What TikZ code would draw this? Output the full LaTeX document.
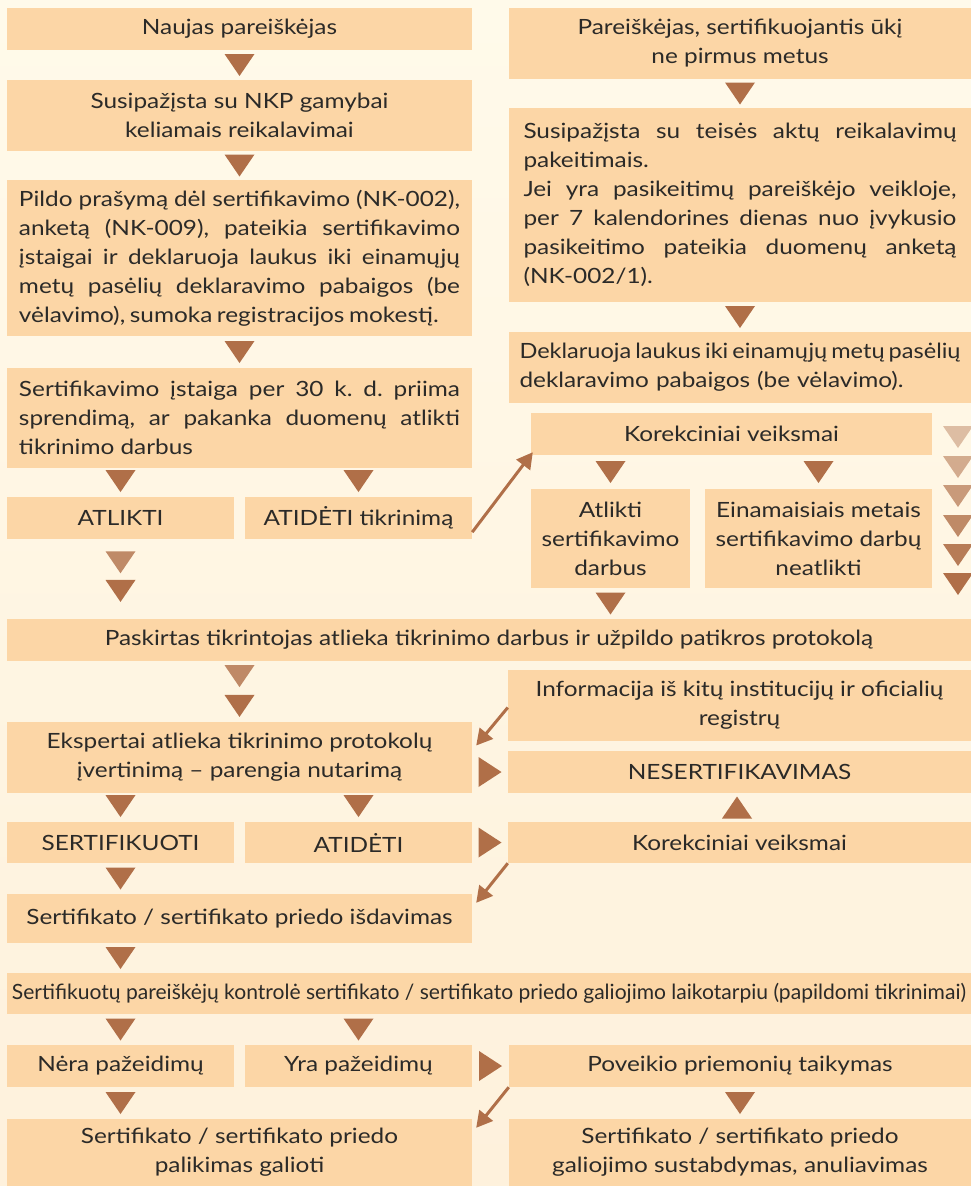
\documentclass[tikz,border=0pt]{standalone}
\usepackage{fontspec}
\usepackage{graphicx}
\setmainfont{Lato}[FakeStretch=1.16]
\usetikzlibrary{calc,arrows.meta}
\definecolor{bgtop}{HTML}{FFFAEA}
\definecolor{bgbot}{HTML}{FEF1DC}
\definecolor{boxc}{HTML}{FCD6A6}
\definecolor{triC}{HTML}{B06F48}
\definecolor{txt}{HTML}{2B2A28}
\newcommand\mkbox[7][bx]{\node[#1, minimum width={#5pt-#3pt}, minimum height={#6pt-#4pt}] (#2) at ({(#3+#5)/2},{(#4+#6)/2}) {#7};}
% down triangle between two points: style, pos, from, to
\newcommand\dtri[4]{\path (#3) -- (#4) coordinate[pos=#2] (m); \fill[tri,#1] ($(m)+(-15,-11)$) -- ($(m)+(15,-11)$) -- ($(m)+(0,11)$) -- cycle;}
\newcommand\rtri[2]{\path (#1) -- (#2) coordinate[pos=.5] (m); \fill[tri] ($(m)+(-11.5,-15)$) -- ($(m)+(-11.5,15)$) -- ($(m)+(11.5,0)$) -- cycle;}
\newcommand\utri[2]{\path (#1) -- (#2) coordinate[pos=.5] (m); \fill[tri] ($(m)+(-15,11)$) -- ($(m)+(15,11)$) -- ($(m)+(0,-11)$) -- cycle;}
\begin{document}
\begin{tikzpicture}[x=1pt,y=-1pt,
  bx/.style={fill=boxc, text=txt, inner sep=0pt, align=center, font=\fontsize{21}{29}\selectfont\frenchspacing},
  jbox/.style={bx, align=justify},
  tri/.style={fill=triC},
  arr/.style={draw=triC, line width=3pt, -{Triangle[length=16pt,width=17pt]}}]
\fill[top color=bgtop, bottom color=bgbot] (0,0) rectangle (971,1186);
\useasboundingbox (0,0) rectangle (971,1186);
% left column
\mkbox{n1}{7}{8}{472}{50}{Naujas pareiškėjas}
\mkbox{n2}{7}{80}{472}{151}{Susipažįsta su NKP gamybai\\keliamais reikalavimai}
\mkbox[jbox,text width=441pt]{n3}{7}{180}{472}{336}{\spaceskip=0.22em plus 0.6em minus 0.08em Pildo prašymą dėl sertifikavimo (NK-002),\linebreak anketą (NK-009), pateikia sertifikavimo\linebreak įstaigai ir deklaruoja laukus iki einamųjų\linebreak metų pasėlių deklaravimo pabaigos (be\linebreak vėlavimo), sumoka registracijos mokestį.}
\mkbox[jbox,text width=441pt]{n4}{7}{368}{472}{468}{Sertifikavimo įstaiga per 30 k. d. priima\linebreak sprendimą, ar pakanka duomenų atlikti\linebreak tikrinimo darbus}
\mkbox{atl}{7}{497}{234}{539}{ATLIKTI}
\mkbox{atid}{245}{497}{472}{539}{ATIDĖTI tikrinimą}
% right column
\mkbox{r1}{509}{8}{971}{79}{Pareiškėjas, sertifikuojantis ūkį\\ne pirmus metus}
\mkbox[jbox,text width=433pt]{r2}{509}{108}{971}{302}{\spaceskip=0.22em plus 0.6em minus 0.08em Susipažįsta su teisės aktų reikalavimų\linebreak pakeitimais.\\Jei yra pasikeitimų pareiškėjo veikloje,\linebreak per 7 kalendorines dienas nuo įvykusio\linebreak pasikeitimo pateikia duomenų anketą\linebreak (NK-002/1).}
\mkbox[bx,align=left,text width=441pt]{r3}{509}{332}{971}{403}{\resizebox{441pt}{\height}{\spaceskip=0.2em\relax Deklaruoja laukus iki einamųjų metų pasėlių}\\deklaravimo pabaigos (be vėlavimo).}
\mkbox{k1}{531}{413}{932}{455}{Korekciniai veiksmai}
\mkbox{ats}{531}{489}{690}{588}{Atlikti\\sertifikavimo\\darbus}
\mkbox{ein}{705}{489}{932}{588}{Einamaisiais metais\\sertifikavimo darbų\\neatlikti}
% middle
\mkbox{pask}{7}{619}{971}{661}{Paskirtas tikrintojas atlieka tikrinimo darbus ir užpildo patikros protokolą}
\mkbox{eksp}{7}{722}{472}{793}{Ekspertai atlieka tikrinimo protokolų\\įvertinimą – parengia nutarimą}
\mkbox{info}{508}{670}{971}{741}{Informacija iš kitų institucijų ir oficialių\\registrų}
\mkbox{neser}{508}{751}{971}{793}{NESERTIFIKAVIMAS}
\mkbox{sert}{7}{822}{234}{863}{SERTIFIKUOTI}
\mkbox{atid2}{245}{822}{472}{863}{ATIDĖTI}
\mkbox{k2}{508}{822}{971}{863}{Korekciniai veiksmai}
\mkbox{isd}{7}{894}{472}{943}{Sertifikato / sertifikato priedo išdavimas}
\mkbox{kont}{7}{973}{971}{1014}{\resizebox{954pt}{\height}{Sertifikuotų pareiškėjų kontrolė sertifikato / sertifikato priedo galiojimo laikotarpiu (papildomi tikrinimai)}}
\mkbox{nera}{7}{1045}{234}{1087}{Nėra pažeidimų}
\mkbox{yra}{245}{1045}{472}{1087}{Yra pažeidimų}
\mkbox{pov}{509}{1045}{971}{1087}{Poveikio priemonių taikymas}
\mkbox{pal}{7}{1119}{472}{1186}{Sertifikato / sertifikato priedo\\palikimas galioti}
\mkbox{sus}{509}{1119}{971}{1186}{Sertifikato / sertifikato priedo\\galiojimo sustabdymas, anuliavimas}
% triangles
\dtri{}{.5}{n1.south}{n2.north}
\dtri{}{.5}{n2.south}{n3.north}
\dtri{}{.5}{n3.south}{n4.north}
\dtri{}{.45}{n4.south -| atl.north}{atl.north}
\dtri{}{.45}{n4.south -| atid.north}{atid.north}
\dtri{opacity=.8}{.29}{atl.south}{pask.north -| atl.south}
\dtri{}{.65}{atl.south}{pask.north -| atl.south}
\dtri{}{.5}{r1.south}{r2.north}
\dtri{}{.5}{r2.south}{r3.north}
\dtri{}{.5}{k1.south -| ats.north}{ats.north}
\dtri{}{.5}{k1.south -| ein.north}{ein.north}
\dtri{}{.5}{ats.south}{pask.north -| ats.south}
\foreach \yy/\op in {437/.42,467/.55,496/.68,526/.8,555/.9,584/1}
  \fill[tri,opacity=\op] (943,\yy-11) -- (973,\yy-11) -- (958,\yy+11) -- cycle;
\dtri{opacity=.8}{.246}{pask.south -| eksp.north}{eksp.north}
\dtri{}{.738}{pask.south -| eksp.north}{eksp.north}
\dtri{}{.45}{eksp.south -| sert.north}{sert.north}
\dtri{}{.45}{eksp.south -| atid2.north}{atid2.north}
\rtri{eksp.east |- neser.west}{neser.west}
\utri{neser.south -| 737,0}{k2.north -| 737,0}
\rtri{atid2.east}{k2.west}
\dtri{}{.5}{sert.south}{isd.north -| sert.south}
\dtri{}{.5}{isd.south -| sert.south}{kont.north -| sert.south}
\dtri{}{.5}{kont.south -| nera.north}{nera.north}
\dtri{}{.5}{kont.south -| yra.north}{yra.north}
\rtri{yra.east}{pov.west}
\dtri{}{.5}{nera.south}{pal.north -| nera.south}
\dtri{}{.5}{pov.south}{sus.north -| pov.south}
% arrows
\draw[arr] ($(atid.south east)+(0,-7)$) -- ($(k1.south west)+(2,-3)$);
\draw[arr] ($(info.west)+(0,2)$) -- ($(eksp.east)+(4,-12)$);
\draw[arr] (k2.south west) -- ($(isd.north east)+(4,9)$);
\draw[arr] (pov.south west) -- ($(pal.north east)+(4,9)$);
\end{tikzpicture}
\end{document}
